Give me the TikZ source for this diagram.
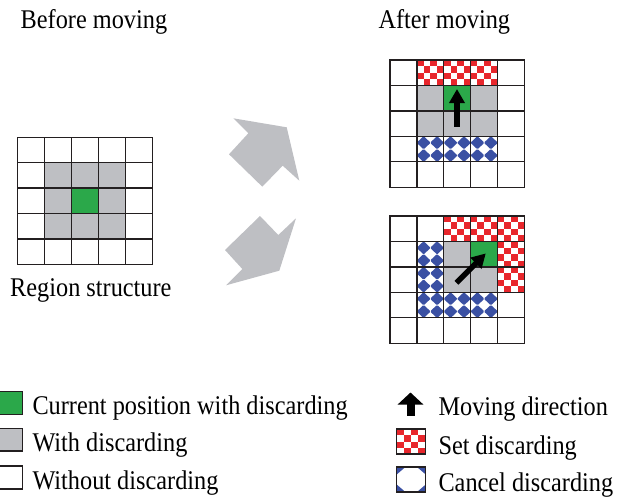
\documentclass[tikz,border=0pt]{standalone}
\usepackage{fontspec}
\setmainfont{Liberation Serif}[FakeStretch=0.9]
\usetikzlibrary{arrows.meta}

\definecolor{curgreen}{RGB}{43,168,74}
\definecolor{discgray}{RGB}{190,191,195}
\definecolor{setred}{RGB}{232,38,44}
\definecolor{cancelblue}{RGB}{58,80,163}
\definecolor{gridline}{RGB}{35,31,32}

% red/white checker in cell (#1,#2)
\newcommand{\setcell}[2]{%
  \foreach \a in {0,...,3}{\foreach \b in {0,...,3}{
    \pgfmathtruncatemacro{\chk}{mod(\a+\b,2)}
    \ifnum\chk=0 \fill[setred] (#1+\a/4,#2+\b/4) rectangle ++(0.25,0.25);\fi
  }}}
% blue diamonds in cell (#1,#2)
\newcommand{\cancelcell}[2]{%
  \foreach \a in {0.25,0.75}{\foreach \b in {0.25,0.75}{
    \fill[cancelblue, rounded corners=1pt] (#1+\a-0.26,#2+\b) -- (#1+\a,#2+\b-0.26) -- (#1+\a+0.26,#2+\b) -- (#1+\a,#2+\b+0.26) -- cycle;
  }}}
\newcommand{\gridfive}{%
  \draw[gridl] (0,0) rectangle (5,5);
  \foreach \i in {1,...,4} {
    \draw[gridl] (\i,0) -- (\i,5);
    \draw[gridl] (0,\i) -- (5,\i);
  }}

\begin{document}
\begin{tikzpicture}[x=1pt, y=-1pt,
    txt/.style={font=\fontsize{27}{31}\selectfont, inner sep=0pt, anchor=base west},
    gridl/.style={draw=gridline, line width=1.3pt},
    movearrow/.style={line width=5.5pt, -{Triangle[width=15pt,length=14pt]}},
    bigarrow/.style={fill=discgray}]

\useasboundingbox (0,0) rectangle (628,497);

\node[txt] (before) at (20.5,28.3) {Before moving};
\node[txt] (after) at (378.3,28.3) {After moving};
\node[txt] (region) at (10,296) {Region structure};

% before moving
\begin{scope}[shift={(17.3,137.3)}, x=27.1pt, y=-25.4pt]
  \fill[discgray] (1,1) rectangle (4,4);
  \fill[curgreen] (2,2) rectangle (3,3);
  \gridfive
\end{scope}

% big gray arrows
\fill[bigarrow] (233.3,118.3) -- (286.7,127.3) -- (299.3,180.7) -- (282.7,165.7)
  -- (262.3,186.7) -- (229,154.3) -- (248.3,133.3) -- cycle;
\fill[bigarrow] (260,216) -- (278.3,235) -- (296,218.3) -- (279.3,270.7)
  -- (226,285.3) -- (242.3,269) -- (225,250) -- cycle;

% after moving, straight
\begin{scope}[shift={(390,60)}, x=26.9pt, y=-25.46pt]
  \fill[discgray] (1,1) rectangle (4,3);
  \fill[curgreen] (2,1) rectangle (3,2);
  \foreach \i in {1,2,3} {\setcell{\i}{0} \cancelcell{\i}{3}}
  \gridfive
  \coordinate (upfrom) at (2.49,2.62);
  \coordinate (upto) at (2.49,1.14);
  \draw[movearrow] (upfrom) -- (upto);
\end{scope}

% after moving, diagonal
\begin{scope}[shift={(390,216)}, x=26.9pt, y=-25.46pt]
  \fill[discgray] (2,1) rectangle (3,3);
  \fill[discgray] (3,2) rectangle (4,3);
  \fill[curgreen] (3,1) rectangle (4,2);
  \foreach \i/\j in {2/0,3/0,4/0,4/1,4/2} {\setcell{\i}{\j}}
  \foreach \i/\j in {1/1,1/2,1/3,2/3,3/3} {\cancelcell{\i}{\j}}
  \gridfive
  \coordinate (diagfrom) at (2.47,2.62);
  \coordinate (diagto) at (3.56,1.47);
  \draw[movearrow] (diagfrom) -- (diagto);
\end{scope}

% legend
\fill[curgreen, gridl] (-3,391.7) rectangle (22.7,414.3);
\fill[discgray, gridl] (-3,428.3) rectangle (22.7,451);
\draw[gridl] (-3,466) rectangle (22.7,489);
\node[txt] (curlab) at (32.3,414) {Current position with discarding};
\node[txt] (withlab) at (32.3,451) {With discarding};
\node[txt] (withoutlab) at (32.3,489) {Without discarding};

\coordinate (legfrom) at (410.5,415.5);
\coordinate (legto) at (410.5,392.5);
\draw[line width=8pt, -{Triangle[width=25pt,length=12pt]}] (legfrom) -- (legto);
\begin{scope}[shift={(396.7,429)}, x=29pt, y=-25pt]
  \setcell{0}{0}
  \draw[gridl] (0,0) rectangle (1,1);
\end{scope}
\begin{scope}[shift={(396.7,467)}, x=29pt, y=-25pt]
  \begin{scope}
    \clip (0,0) rectangle (1,1);
    \foreach \a in {0,1}{\foreach \b in {0,1}{
      \fill[cancelblue] (\a-0.3,\b) -- (\a,\b-0.3) -- (\a+0.3,\b) -- (\a,\b+0.3) -- cycle;
    }}
  \end{scope}
  \draw[gridl] (0,0) rectangle (1,1);
\end{scope}
\node[txt] (movelab) at (438.3,415) {Moving direction};
\node[txt] (setlab) at (438.3,454) {Set discarding};
\node[txt] (cancellab) at (438.3,491.7) {Cancel discarding};

\end{tikzpicture}
\end{document}
